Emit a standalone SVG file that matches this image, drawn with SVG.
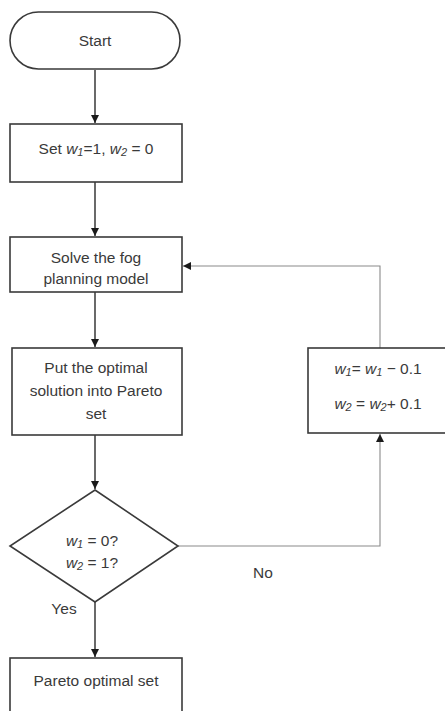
<svg xmlns="http://www.w3.org/2000/svg" width="445" height="711" viewBox="0 0 445 711">
<style>
.shape{fill:#fff;stroke:#3a3a3a;stroke-width:1.6}
.t{font-family:"Liberation Sans",Arial,sans-serif;font-size:15.5px;fill:#3a3a3a;text-anchor:middle}
.i{font-style:italic}
.s{font-size:11px;font-style:italic}
.c{fill:none;stroke:#2a2a2a;stroke-width:1.4}
.cl{fill:none;stroke:#8a8a8a;stroke-width:1.1}
</style>
<defs>
<marker id="ah" markerUnits="userSpaceOnUse" markerWidth="8" markerHeight="8" refX="8" refY="4" orient="auto">
<path d="M0,0 L8,4 L0,8 z" fill="#1a1a1a"/>
</marker>
</defs>
<rect width="445" height="711" fill="#fff"/>
<g id="connectors">
<path class="c" d="M95,70 V123" marker-end="url(#ah)"/>
<path class="c" d="M95,182 V236" marker-end="url(#ah)"/>
<path class="c" d="M95,292 V347" marker-end="url(#ah)"/>
<path class="c" d="M95,435 V489" marker-end="url(#ah)"/>
<path class="c" d="M95,602 V657" marker-end="url(#ah)"/>
<path class="cl" d="M178,546 H380 V434" marker-end="url(#ah)"/>
<path class="cl" d="M380,348 V266 H183" marker-end="url(#ah)"/>
<text class="t" x="263" y="577.5">No</text>
<text class="t" x="64" y="613.5">Yes</text>
</g>
<g id="start">
<rect class="shape" x="10" y="12" width="170" height="57" rx="28.5"/>
<text class="t" x="95" y="45.5">Start</text>
</g>
<g id="set">
<rect class="shape" x="10" y="124" width="172" height="58"/>
<text class="t" x="96" y="153.5">Set <tspan class="i">w</tspan><tspan class="s" dy="2">1</tspan><tspan dy="-2">=1, </tspan><tspan class="i">w</tspan><tspan class="s" dy="2">2</tspan><tspan dy="-2"> = 0</tspan></text>
</g>
<g id="solve">
<rect class="shape" x="10" y="237" width="172" height="55"/>
<text class="t" x="96" y="262.5">Solve the fog</text>
<text class="t" x="96" y="283.5">planning model</text>
</g>
<g id="put">
<rect class="shape" x="12" y="348" width="170" height="87"/>
<text class="t" x="96" y="372.5">Put the optimal</text>
<text class="t" x="96" y="395.5">solution into Pareto</text>
<text class="t" x="96" y="418.5">set</text>
</g>
<g id="decision">
<polygon class="shape" points="95,490 178,546 95,602 10,546"/>
<text class="t" x="92" y="545.5"><tspan class="i">w</tspan><tspan class="s" dy="2">1</tspan><tspan dy="-2"> = 0?</tspan></text>
<text class="t" x="92" y="567.5"><tspan class="i">w</tspan><tspan class="s" dy="2">2</tspan><tspan dy="-2"> = 1?</tspan></text>
</g>
<g id="update">
<rect class="shape" x="308" y="348" width="145" height="85"/>
<text class="t" x="378" y="373.5"><tspan class="i">w</tspan><tspan class="s" dy="2">1</tspan><tspan dy="-2">= </tspan><tspan class="i">w</tspan><tspan class="s" dy="2">1</tspan><tspan dy="-2"> − 0.1</tspan></text>
<text class="t" x="378" y="408.5"><tspan class="i">w</tspan><tspan class="s" dy="2">2</tspan><tspan dy="-2"> = </tspan><tspan class="i">w</tspan><tspan class="s" dy="2">2</tspan><tspan dy="-2">+ 0.1</tspan></text>
</g>
<g id="pareto">
<rect class="shape" x="10" y="658" width="172" height="70"/>
<text class="t" x="96" y="685.5">Pareto optimal set</text>
</g>
</svg>
